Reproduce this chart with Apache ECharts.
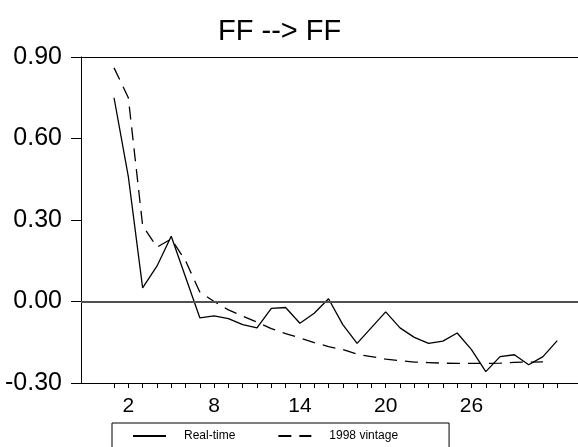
<!DOCTYPE html>
<html><head><meta charset="utf-8">
<script src="https://cdn.jsdelivr.net/npm/echarts@6/dist/echarts.min.js"></script>
<style>html,body{margin:0;padding:0;background:#fff}#c{width:578px;height:447px}</style>
</head><body><div id="c"></div>
<script>
const periods = [1,2,3,4,5,6,7,8,9,10,11,12,13,14,15,16,17,18,19,20,21,22,23,24,25,26,27,28,29,30,31,32];
const realTime = [0.75,0.46,0.05,0.13,0.24,0.09,-0.06,-0.053,-0.063,-0.085,-0.097,-0.025,-0.022,-0.08,-0.043,0.01,-0.085,-0.154,-0.096,-0.038,-0.097,-0.132,-0.154,-0.146,-0.116,-0.177,-0.258,-0.203,-0.196,-0.233,-0.203,-0.144];
const vintage1998 = [0.86,0.75,0.28,0.20,0.23,0.15,0.035,0.0,-0.031,-0.054,-0.076,-0.10,-0.118,-0.134,-0.151,-0.166,-0.177,-0.194,-0.203,-0.212,-0.218,-0.223,-0.225,-0.227,-0.228,-0.228,-0.228,-0.227,-0.224,-0.223,-0.222,null];
const xTickValues = periods;
const xLabelValues = [2,8,14,20,26];
const seriesNames = ['Real-time','1998 vintage'];
const titleText = 'FF --> FF';

const chart = echarts.init(document.getElementById('c'));
const font = 'Liberation Sans, Arial, Helvetica, sans-serif';
chart.setOption({
  animation:false,
  backgroundColor:'#fff',
  title:{text:titleText,left:213,top:12,textStyle:{fontFamily:font,fontSize:29,fontWeight:'normal',color:'#000'}},
  legend:{
    data:seriesNames,
    left:112, top:423,
    orient:'horizontal',
    itemWidth:33, itemHeight:14, itemGap:42,
    padding:[7,51,30,20],
    borderColor:'#000', borderWidth:1, borderRadius:0,
    itemStyle:{color:'transparent',borderWidth:0,opacity:0},
    textStyle:{fontFamily:font,fontSize:12,color:'#000',padding:[0,0,0,13]}
  },
  grid:{left:81,right:0,top:57,bottom:64,containLabel:false},
  xAxis:[{
    type:'value', min:-1.31, max:33.45, position:'bottom',
    axisLine:{show:true,onZero:false,lineStyle:{color:'#000',width:1}},
    axisTick:{show:true,length:5,inside:false,customValues:xTickValues,lineStyle:{color:'#000',width:1}},
    axisLabel:{show:true,customValues:xLabelValues,margin:13,fontFamily:font,fontSize:21,color:'#000'},
    splitLine:{show:false}
  },{
    type:'value', min:-1.31, max:33.45, position:'top',
    axisLine:{show:true,onZero:false,lineStyle:{color:'#000',width:1}},
    axisTick:{show:false}, axisLabel:{show:false}, splitLine:{show:false}
  }],
  yAxis:{
    type:'value', min:-0.3, max:0.9, interval:0.3,
    axisLine:{show:true,onZero:false,lineStyle:{color:'#000',width:1}},
    axisTick:{show:true,length:10,lineStyle:{color:'#000',width:1}},
    axisLabel:{margin:19,fontFamily:font,fontSize:25,color:'#000',formatter:v=>v.toFixed(2)},
    splitLine:{show:false}
  },
  series:[{
    name:seriesNames[0], type:'line', xAxisIndex:0,
    data:periods.map((p,i)=>[p,realTime[i]]),
    symbol:'none', lineStyle:{color:'#000',width:1.3,type:'solid'}, itemStyle:{color:'#000'},
    markLine:{silent:true,symbol:['none','none'],label:{show:false},lineStyle:{color:'#505050',width:2,type:'solid'},data:[{yAxis:0}]}
  },{
    name:seriesNames[1], type:'line', xAxisIndex:0,
    data:periods.map((p,i)=>[p,vintage1998[i]]),
    symbol:'none', lineStyle:{color:'#000',width:1.3,type:[13,8]}, itemStyle:{color:'#000'}
  }]
});
</script></body></html>
